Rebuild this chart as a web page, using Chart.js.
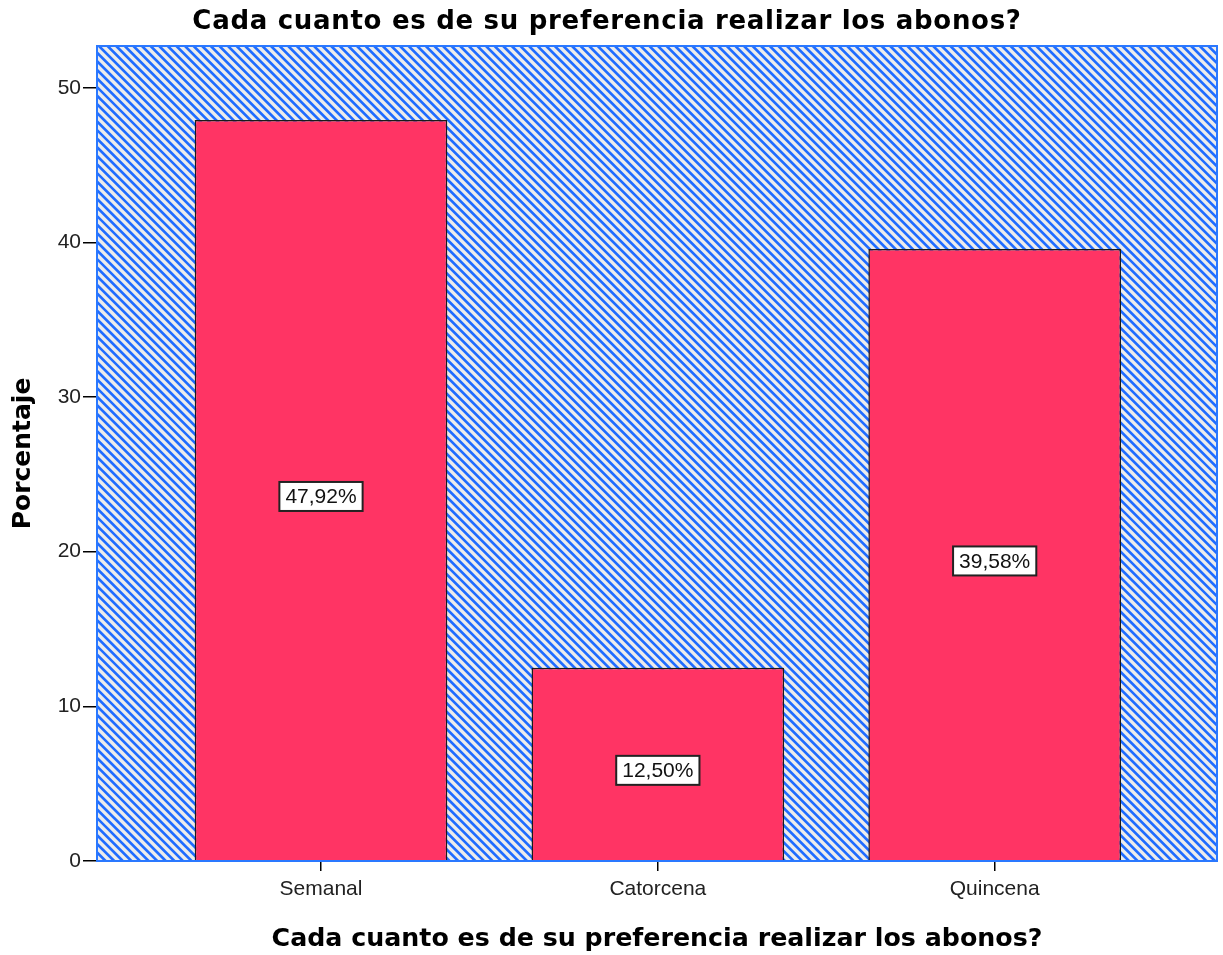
<!DOCTYPE html>
<html>
<head>
<meta charset="utf-8">
<script src="https://cdn.jsdelivr.net/npm/chart.js@4"></script>
<style>
  html, body { margin: 0; padding: 0; background: #fff; }
  #wrap { width: 1223px; height: 955px; }
</style>
</head>
<body>
<div id="wrap"><canvas id="myChart" width="1223" height="955"></canvas></div>
<script>
var categories = ['Semanal', 'Catorcena', 'Quincena'];
var percentages = [47.92, 12.50, 39.58];
var yTicks = [0, 10, 20, 30, 40, 50];
var chartTitle = 'Cada cuanto es de su preferencia realizar los abonos?';

var boldFont = '"DejaVu Sans", Verdana, sans-serif';
var plainFont = '"Liberation Sans", Arial, sans-serif';

// diagonal blue hatching behind the bars + blue frame on the plot area
var hatchPlugin = {
    id: 'hatch',
    beforeDatasetsDraw: function (chart) {
        var a = chart.chartArea, ctx = chart.ctx;
        var w = a.right - a.left, h = a.bottom - a.top;
        ctx.save();
        ctx.beginPath();
        ctx.rect(a.left, a.top, w, h);
        ctx.clip();
        ctx.fillStyle = '#ececec';
        ctx.fillRect(a.left, a.top, w, h);
        ctx.strokeStyle = '#1f6cff';
        ctx.lineWidth = 2.6;
        for (var k = -h; k < w + 10; k += 8.6) {
            ctx.beginPath();
            ctx.moveTo(a.left + k, a.top);
            ctx.lineTo(a.left + k + h, a.bottom);
            ctx.stroke();
        }
        ctx.restore();
    },
    afterDatasetsDraw: function (chart) {
        var a = chart.chartArea, ctx = chart.ctx;
        ctx.save();
        ctx.strokeStyle = '#2a78ff';
        ctx.lineWidth = 2;
        ctx.strokeRect(a.left, a.top, a.right - a.left, a.bottom - a.top);
        ctx.restore();
    }
};

// top title, a little wider-set than the axis title
var topTitle = {
    id: 'topTitle',
    afterDraw: function (chart) {
        var ctx = chart.ctx;
        ctx.save();
        ctx.font = 'bold 26px ' + boldFont;
        ctx.letterSpacing = '0.7px';
        ctx.fillStyle = '#000';
        ctx.textAlign = 'center';
        ctx.textBaseline = 'middle';
        ctx.fillText(chartTitle, 607, 22);
        ctx.restore();
    }
};

// boxed percentage label in the middle of each bar
var boxLabels = {
    id: 'boxLabels',
    afterDraw: function (chart) {
        var ctx = chart.ctx;
        var yScale = chart.scales.y;
        var meta = chart.getDatasetMeta(0);
        ctx.save();
        ctx.font = '21px ' + plainFont;
        ctx.textAlign = 'center';
        ctx.textBaseline = 'middle';
        meta.data.forEach(function (bar, i) {
            var v = percentages[i];
            var txt = v.toFixed(2).replace('.', ',') + '%';
            var cx = bar.x;
            var cy = yScale.getPixelForValue(v / 2) + 6;
            var tw = ctx.measureText(txt).width;
            var bw = tw + 12, bh = 29;
            ctx.fillStyle = '#ffffff';
            ctx.fillRect(cx - bw / 2, cy - bh / 2, bw, bh);
            ctx.strokeStyle = '#222';
            ctx.lineWidth = 2;
            ctx.strokeRect(cx - bw / 2, cy - bh / 2, bw, bh);
            ctx.fillStyle = '#111';
            ctx.fillText(txt, cx, cy + 1);
        });
        ctx.restore();
    }
};

var ctx = document.getElementById('myChart').getContext('2d');
new Chart(ctx, {
    type: 'bar',
    data: {
        datasets: [{
            label: 'Porcentaje',
            data: percentages.map(function (v, i) { return { x: i, y: v }; }),
            backgroundColor: '#ff3464',
            borderColor: '#1a1a1a',
            borderWidth: 1.5,
            categoryPercentage: 1,
            barPercentage: 0.75
        }]
    },
    options: {
        responsive: false,
        animation: false,
        layout: { padding: { top: 46, right: 6 } },
        plugins: {
            legend: { display: false },
            tooltip: { enabled: false }
        },
        scales: {
            x: {
                type: 'linear',
                offset: false,
                min: -0.665,
                max: 2.66,
                afterBuildTicks: function (scale) {
                    scale.ticks = categories.map(function (c, i) { return { value: i }; });
                },
                afterFit: function (scale) { scale.height = 94; },
                grid: { offset: false, drawOnChartArea: false, color: '#000', tickLength: 10, lineWidth: 1.5 },
                border: { display: false },
                ticks: {
                    color: '#222',
                    padding: 6,
                    maxRotation: 0,
                    font: { family: plainFont, size: 21 },
                    callback: function (v) { return categories[v]; }
                },
                title: {
                    display: true,
                    text: chartTitle,
                    color: '#000',
                    font: { family: boldFont, size: 25.3, weight: 'bold' },
                    padding: { top: 0, bottom: 0 }
                }
            },
            y: {
                min: 0,
                max: 52.7,
                afterBuildTicks: function (scale) {
                    scale.ticks = yTicks.map(function (t) { return { value: t }; });
                },
                afterFit: function (scale) { scale.width = 97; },
                grid: { drawOnChartArea: false, color: '#000', tickLength: 14, lineWidth: 1.5 },
                border: { display: false },
                ticks: {
                    color: '#222',
                    padding: 2,
                    font: { family: plainFont, size: 21 }
                },
                title: {
                    display: true,
                    text: 'Porcentaje',
                    color: '#000',
                    font: { family: boldFont, size: 25, weight: 'bold' },
                    padding: { top: 8, bottom: 0 }
                }
            }
        }
    },
    plugins: [hatchPlugin, topTitle, boxLabels]
});
</script>
</body>
</html>
